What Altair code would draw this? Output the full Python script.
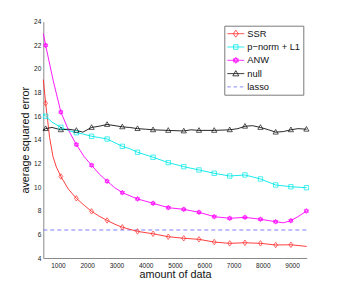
import altair as alt
import pandas as pd

# ---------------- data ----------------
series_names = ["SSR", "p\u2212norm + L1", "ANW", "null", "lasso"]
series_colors = ["#ff2a2a", "#00e8e8", "#ff00ff", "#111111", "#6f6fff"]

x_ticks = [1000, 2000, 3000, 4000, 5000, 6000, 7000, 8000, 9000]
y_ticks = [4, 6, 8, 10, 12, 14, 16, 18, 20, 22, 24]

marker_x = [580, 1100, 1630, 2150, 2680, 3200, 3720, 4250, 4770, 5300,
            5820, 6340, 6870, 7390, 7920, 8440, 8960, 9490]

ssr_marker_y = [17.1, 10.9, 9.05, 7.95, 7.18, 6.6, 6.25, 6.05, 5.8, 5.67,
                5.58, 5.35, 5.24, 5.29, 5.24, 5.1, 5.12]
pnorm_marker_y = [16.0, 15.06, 14.6, 14.3, 14.07, 13.45, 12.95, 12.53, 12.07, 11.73,
                  11.45, 11.17, 10.94, 11.03, 10.69, 10.18, 10.03, 9.95]
anw_marker_y = [22.0, 16.35, 13.6, 11.85, 10.5, 9.53, 9.0, 8.63, 8.26, 8.12,
                7.87, 7.5, 7.36, 7.44, 7.28, 7.07, 7.16, 7.98]
null_marker_y = [14.95, 14.85, 14.8, 15.05, 15.3, 15.1, 14.95, 14.85, 14.8, 14.75,
                 14.8, 14.8, 14.85, 15.15, 15.05, 14.65, 14.85, 14.9]

ssr_line_x = [500, 580, 650, 716, 829, 945, 1100, 1350, 1630, 1900, 2150, 2400, 2680, 2950,
              3200, 3720, 4250, 4770, 5300, 5820, 6340, 6870, 7390, 7920, 8440, 8960, 9500]
ssr_line_y = [19.1, 17.1, 15.6, 14.2, 12.6, 11.7, 10.9, 9.85, 9.05, 8.45, 7.95, 7.55, 7.18, 6.85,
              6.6, 6.25, 6.05, 5.8, 5.67, 5.58, 5.35, 5.24, 5.29, 5.24, 5.1, 5.12, 4.98]

pnorm_line_x = [500, 580, 800, 1100, 1350, 1630, 1850, 2150, 2400, 2680, 2950, 3200, 3460,
                3720, 4250, 4770, 5300, 5820, 6340, 6870, 7390, 7920, 8440, 8960, 9500]
pnorm_line_y = [16.2, 16.0, 15.5, 15.06, 14.8, 14.6, 14.5, 14.3, 14.2, 14.07, 13.75, 13.45, 13.25,
                12.95, 12.53, 12.07, 11.73, 11.45, 11.17, 10.94, 11.03, 10.69, 10.18, 10.03, 9.95]

anw_line_x = [500, 580, 840, 1100, 1365, 1630, 1890, 2150, 2415, 2680, 2940, 3200, 3720,
              4250, 4770, 5300, 5820, 6340, 6870, 7390, 7920, 8440, 8700, 8960, 9200, 9500]
anw_line_y = [23.0, 22.0, 19.0, 16.35, 14.8, 13.6, 12.6, 11.85, 11.1, 10.5, 9.95, 9.53, 9.0,
              8.63, 8.26, 8.12, 7.87, 7.5, 7.36, 7.44, 7.28, 7.07, 6.98, 7.16, 7.5, 7.98]

null_line_x = [500, 580, 800, 1100, 1350, 1630, 1850, 2150, 2400, 2680, 2950, 3200, 3450,
               3720, 4000, 4250, 4770, 5300, 5550, 5820, 6340, 6870, 7150, 7390, 7650, 7920,
               8200, 8440, 8700, 8960, 9200, 9500]
null_line_y = [14.8, 14.95, 15.05, 14.85, 14.9, 14.8, 14.65, 15.05, 15.15, 15.3, 15.2, 15.1, 15.05,
               14.95, 14.9, 14.85, 14.8, 14.75, 14.85, 14.8, 14.8, 14.85, 14.95, 15.15, 15.2, 15.05,
               14.85, 14.65, 14.7, 14.85, 14.95, 14.9]

lasso_x = [500, 9500]
lasso_y = [6.37, 6.37]

# ---------------- tables ----------------
def frame(name, xs, ys):
    return pd.DataFrame({"series": name, "x": xs, "y": ys})

lines_df = pd.concat([
    frame(series_names[0], ssr_line_x, ssr_line_y),
    frame(series_names[1], pnorm_line_x, pnorm_line_y),
    frame(series_names[2], anw_line_x, anw_line_y),
    frame(series_names[3], null_line_x, null_line_y),
], ignore_index=True)

markers_df = pd.concat([
    frame(series_names[0], marker_x[:len(ssr_marker_y)], ssr_marker_y),
    frame(series_names[1], marker_x, pnorm_marker_y),
    frame(series_names[2], marker_x, anw_marker_y),
    frame(series_names[3], marker_x, null_marker_y),
], ignore_index=True)

lasso_df = frame(series_names[4], lasso_x, lasso_y)

# ---------------- shapes ----------------
marker_paths = [
    "M0,-1L0.7,0L0,1L-0.7,0Z",                                   # diamond
    "M-0.8,-0.8H0.8V0.8H-0.8Z",                                  # square
    "M0,-0.9L0.78,0.45L-0.78,0.45Z M0,0.9L0.78,-0.45L-0.78,-0.45Z",  # hexagram
    "M0,-1L0.95,0.7L-0.95,0.7Z",                                 # triangle
]

leg_ssr = "M-1,0H2.4 M0.7,-0.7L1.2,0L0.7,0.7L0.2,0Z"
leg_pn = "M-1,0H2.4 M0.25,-0.45H1.15V0.45H0.25Z"
leg_anw = ("M-1,0H2.4 M0.7,-0.6L1.22,0.3L0.18,0.3Z "
           "M0.7,0.6L1.22,-0.3L0.18,-0.3Z")
leg_null = "M-1,0H2.4 M0.7,-0.6L1.3,0.45L0.1,0.45Z"
leg_lasso = "M-1,0H-0.3M0.25,0H0.95M1.5,0H2.2"

shape_expr = (
    f"datum.value === 'SSR' ? '{leg_ssr}' : "
    f"datum.value === 'ANW' ? '{leg_anw}' : "
    f"datum.value === 'null' ? '{leg_null}' : "
    f"datum.value === 'lasso' ? '{leg_lasso}' : '{leg_pn}'"
)

FONT = "Liberation Sans"

legend = alt.Legend(
    title=None,
    orient="top-right",
    offset=3.5,
    padding=2.5,
    fillColor="white",
    strokeColor="#7a7a7a",
    labelFont=FONT,
    labelFontSize=9.3,
    labelColor="#111111",
    labelOffset=9.5,
    symbolSize=100,
    symbolType={"expr": shape_expr},
    symbolFillColor="transparent",
    symbolStrokeWidth=0.8,
    symbolOpacity=1,
    rowPadding=2.3,
)

color = alt.Color(
    "series:N",
    scale=alt.Scale(domain=series_names, range=series_colors),
    legend=legend,
)

x_enc = alt.X(
    "x:Q",
    scale=alt.Scale(domain=[500, 9500], nice=False, zero=False),
    axis=alt.Axis(
        title="amount of data", values=x_ticks, format="d", grid=False, ticks=False,
        labelFontSize=6.5, labelPadding=4, labelFont=FONT, labelColor="#222222",
        domainColor="#8a8a8a", titleFont=FONT, titleFontSize=10.8,
        titleFontWeight="normal", titleColor="#111111",
        titleBaseline="alphabetic", titleY=19.7,
    ),
)
y_enc = alt.Y(
    "y:Q",
    scale=alt.Scale(domain=[4, 24], nice=False, zero=False),
    axis=alt.Axis(
        title="average squared error", values=y_ticks, format="d", grid=False, ticks=False,
        labelFontSize=6.5, labelPadding=2.5, labelFont=FONT, labelColor="#222222",
        domainColor="#8a8a8a", titleFont=FONT, titleFontSize=10.8,
        titleFontWeight="normal", titleColor="#111111",
        titleX=-13, titleY=118,
    ),
)

lasso_layer = alt.Chart(lasso_df).mark_line(strokeWidth=0.9, strokeDash=[4, 3]).encode(
    x=x_enc, y=y_enc, color=color,
)

line_layer = alt.Chart(lines_df).mark_line(strokeWidth=0.9).encode(
    x=x_enc, y=y_enc, color=color, detail="series:N",
)

point_layer = alt.Chart(markers_df).mark_point(filled=False, strokeWidth=0.7, opacity=1).encode(
    x=x_enc, y=y_enc, color=color,
    shape=alt.Shape("series:N",
                    scale=alt.Scale(domain=series_names[:4], range=marker_paths),
                    legend=None),
    size=alt.value(30),
)

chart = alt.layer(lasso_layer, line_layer, point_layer).properties(
    width=263.4,
    height=236.3,
    autosize=alt.AutoSizeParams(type="none"),
    padding={"left": 35.3, "top": 13.7, "right": 23.3, "bottom": 25},
    background="white",
).configure_view(stroke="transparent")

chart.save("out.html", embed_options={"renderer": "svg", "actions": False})
